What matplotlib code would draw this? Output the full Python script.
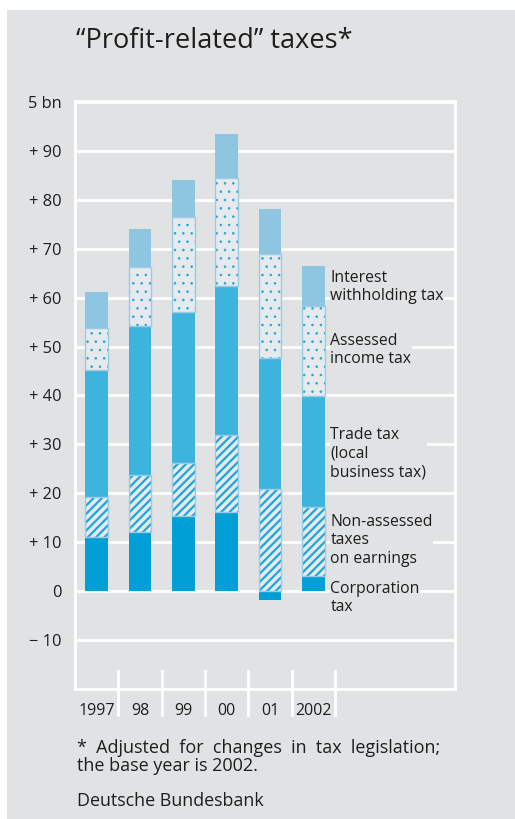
import matplotlib.pyplot as plt
from matplotlib.patches import Rectangle

plt.rcParams['font.family'] = ['Open Sans', 'DejaVu Sans']

years = ['1997', '98', '99', '00', '01', '2002']
corporation = [11.0, 12.1, 15.3, 16.2, -1.8, 3.2]
non_assessed = [8.2, 11.6, 10.9, 15.7, 20.9, 14.0]
trade = [26.1, 30.5, 30.9, 30.4, 26.8, 22.7]
assessed = [8.5, 12.1, 19.4, 22.2, 21.2, 18.3]
interest = [7.4, 7.7, 7.6, 9.0, 9.2, 8.3]

yticks = [100, 90, 80, 70, 60, 50, 40, 30, 20, 10, 0, -10]
ylabels = ['5 bn', '+ 90', '+ 80', '+ 70', '+ 60', '+ 50', '+ 40', '+ 30',
           '+ 20', '+ 10', '0', '\u2212 10']

labels = ['Corporation\ntax', 'Non-assessed\ntaxes\non earnings',
          'Trade tax\n(local\nbusiness tax)', 'Assessed\nincome tax',
          'Interest\nwithholding tax']

bg = '#e1e2e4'
c_corp = '#00a0d6'
c_trade = '#3db4de'
c_int = '#8ec6e2'
c_hatch = '#1ea6dd'
c_light = '#e6eaed'
c_border = '#9ccbe4'
c_text = '#1e1e1e'

fig = plt.figure(figsize=(5.15, 8.19), dpi=100, facecolor='white')
fig.patches.append(Rectangle((7 / 515, 0), 1, (819 - 10) / 819,
                             transform=fig.transFigure, facecolor=bg,
                             edgecolor='none', zorder=-10))
ax = fig.add_axes([75 / 515, (819 - 689) / 819, 380 / 515, 588 / 819])
ax.set_facecolor(bg)

x = list(range(len(years)))
w = 0.53
series = [(corporation, c_corp, None, 0), (non_assessed, c_light, '////', 1.6),
          (trade, c_trade, None, 0), (assessed, c_light, '..', 0.6),
          (interest, c_int, None, 0)]
pos = [0.0] * len(years)
neg = [0.0] * len(years)
for vals, col, hatch, hlw in series:
    bottoms = []
    for i, v in enumerate(vals):
        if v >= 0:
            bottoms.append(pos[i])
            pos[i] += v
        else:
            bottoms.append(neg[i])
            neg[i] += v
    if hatch:
        with plt.rc_context({'hatch.linewidth': hlw}):
            ax.bar(x, vals, w, bottom=bottoms, color=col, edgecolor=c_hatch,
                   hatch=hatch, linewidth=0, zorder=3)
        ax.bar(x, vals, w, bottom=bottoms, fill=False, edgecolor=c_border,
               linewidth=1.0, zorder=4)
    else:
        ax.bar(x, vals, w, bottom=bottoms, color=col, linewidth=0, zorder=3)

# labels beside the 2002 bar
label_y = [-1.4, 10.4, 28.1, 49.3, 62.2]
for t, yy in zip(labels, label_y):
    ax.text(5.39, yy, t, fontsize=11.3, color=c_text, va='center',
            ha='left', linespacing=1.2, zorder=5,
            bbox=dict(facecolor=bg, edgecolor='none', pad=0.5))

ax.set_xlim(-0.5, 8.27)
ax.set_ylim(-20, 100.2)
ax.set_yticks(yticks)
ax.set_yticklabels(ylabels, fontsize=11.8, color=c_text)
ax.set_xticks(x)
ax.set_xticklabels(years, fontsize=11.5, color=c_text)
ax.tick_params(length=0)
ax.tick_params(axis='y', pad=9.5)
ax.tick_params(axis='x', pad=10)
ax.grid(axis='y', color='white', linewidth=2, zorder=1)
for s in ax.spines.values():
    s.set_color('white')
    s.set_linewidth(2)
for b in [0.5, 1.5, 2.5, 3.5, 4.5, 5.5]:
    ax.plot([b, b], [-16.4, -25.4], color='white', linewidth=2,
            clip_on=False, zorder=2)

fig.text(76 / 515, 1 - 41 / 819, '\u201cProfit-related\u201d taxes*',
         fontsize=19.5, color=c_text, va='center', ha='left')
fig.text(77 / 515, 1 - 757 / 819,
         '*  Adjusted  for  changes  in  tax  legislation;\nthe base year is 2002.',
         fontsize=13, color=c_text, va='center', ha='left',
         linespacing=1.05)
fig.text(77 / 515, 1 - 801 / 819, 'Deutsche Bundesbank', fontsize=12.9,
         color=c_text, va='center', ha='left')

fig.savefig('out.png', dpi=100, facecolor='white')
